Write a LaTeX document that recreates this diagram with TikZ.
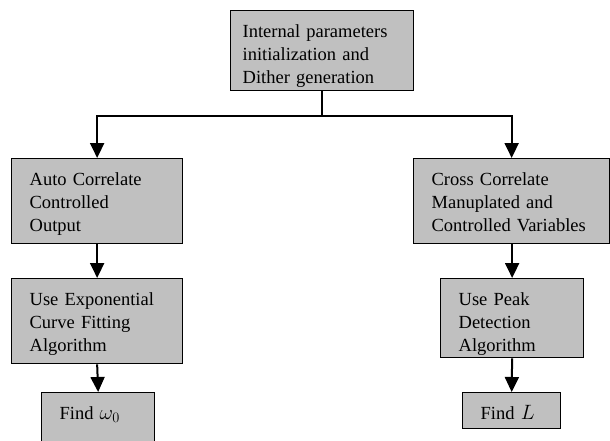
\documentclass[tikz,border=0pt]{standalone}
\usepackage{fontspec}
\setmainfont{Liberation Serif}
\usetikzlibrary{arrows.meta}

\definecolor{boxGray}{RGB}{192,192,192}
\def \boxLine {1.3pt}
\def \flowLine {2pt}
\def \mathBig {\fontsize{22}{22}\selectfont}

\tikzset{
  stage/.style={draw, line width=\boxLine, fill=boxGray, anchor=north west,
    align=left, inner xsep=18pt, inner ysep=0pt, text height=27pt,
    font=\fontsize{18.5}{23}\selectfont},
  flow/.style={line width=\flowLine, -{Triangle[width=14pt,length=15pt]}}
}

\begin{document}
\begin{tikzpicture}[x=1pt, y=-1pt]
  \useasboundingbox (0,0) rectangle (610,441);

  % top block
  \node[stage, inner xsep=12pt, text width=159pt, text depth=53pt] (init) at (230,10)
    {Internal parameters\\initialization and\\Dither generation};

  % left branch
  \node[stage, text width=135pt, text depth=58pt] (auto) at (11,158)
    {Auto Correlate\\Controlled\\Output};
  \node[stage, text width=135pt, text depth=58pt] (expo) at (11,278)
    {Use Exponential\\Curve Fitting\\Algorithm};
  \node[stage, text width=77pt, text depth=25pt] (findw) at (41,392)
    {Find {\mathBig$\omega_0$}};

  % right branch
  \node[stage, text width=160pt, text depth=58pt] (cross) at (413,158)
    {Cross Correlate\\Manuplated and\\Controlled Variables};
  \node[stage, text width=107pt, text depth=52pt] (peak) at (440,278)
    {Use Peak\\Detection\\Algorithm};
  \node[stage, text width=62pt, text depth=9pt] (findL) at (462,392)
    {Find {\mathBig$L$}};

  % connectors
  \coordinate (split) at ([yshift=-25pt]init.south);
  \draw[line width=\flowLine] (init.south) -- (split);
  \draw[flow] (split) -| (auto.north);
  \draw[flow] (split) -| (cross.north);
  \draw[flow] (auto.south) -- (expo.north);
  \draw[flow] (expo.south) -- (findw.north);
  \draw[flow] (peak.north |- cross.south) -- (peak.north);
  \draw[flow] (peak.south) -- (findL.north);
\end{tikzpicture}
\end{document}
